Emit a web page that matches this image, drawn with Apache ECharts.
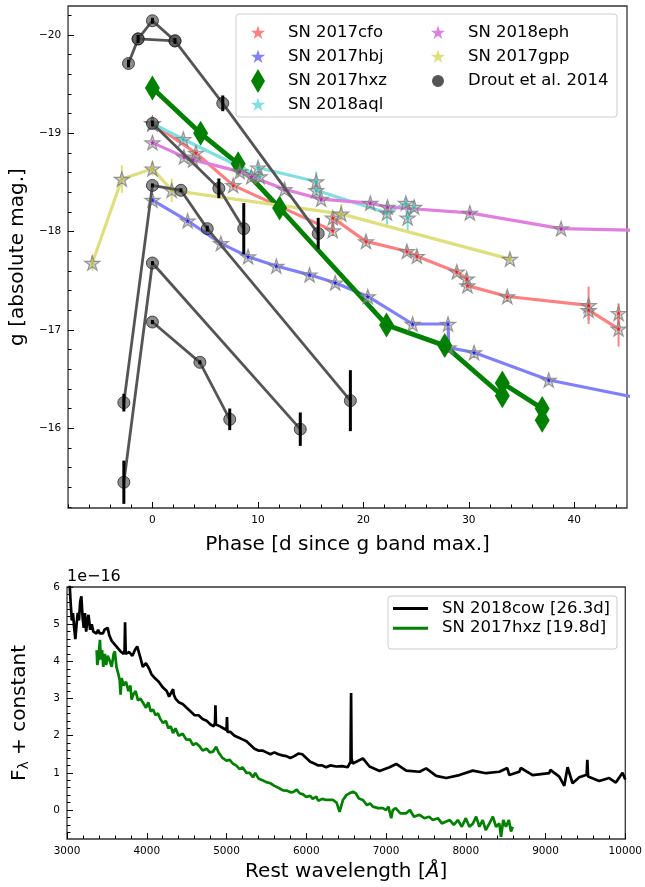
<!DOCTYPE html>
<html>
<head>
<meta charset="utf-8">
<script src="https://cdn.jsdelivr.net/npm/echarts@6/dist/echarts.min.js"></script>
<style>
  html, body { margin: 0; padding: 0; background: #fff; }
  #chart { width: 645px; height: 887px; }
</style>
</head>
<body>
<div id="chart"></div>
<script>
// ---------- g-band light curves: phase [d since g max] and absolute magnitude ----------
const cfoPhase = [0, 4.12, 7.66, 17.1, 17.1, 20.25, 24.13, 25.08, 28.86, 29.8, 29.87, 33.65, 41.36, 41.36, 44.2, 44.2];
const cfoMag   = [-19.10, -18.80, -18.47, -18.01, -18.14, -17.90, -17.80, -17.75, -17.59, -17.52, -17.45, -17.34, -17.25, -17.20, -17.01, -17.17];
const cfoErr   = [0.03, 0.03, 0.04, 0.05, 0.05, 0.04, 0.04, 0.05, 0.04, 0.05, 0.05, 0.04, 0.19, 0.10, 0.18, 0.10];

const hbjPhase = [0, 3.34, 6.49, 9.07, 11.75, 14.9, 17.33, 20.42, 24.67, 28.03, 28.1, 30.5, 37.58, 45.5];
const hbjMag   = [-18.32, -18.11, -17.88, -17.745, -17.65, -17.56, -17.48, -17.34, -17.06, -17.06, -16.82, -16.77, -16.49, -16.32];
const hbjErr   = [0.03, 0.03, 0.03, 0.03, 0.03, 0.03, 0.03, 0.03, 0.03, 0.03, 0.03, 0.03, 0.03, 0.03];

const hxzPhase = [0, 4.57, 8.13, 12.06, 22.2, 27.72, 33.18, 33.18, 36.96, 36.96];
const hxzMag   = [-19.46, -19.0, -18.69, -18.24, -17.05, -16.84, -16.33, -16.46, -16.20, -16.08];
const hxzErr   = [0.02, 0.02, 0.02, 0.02, 0.03, 0.03, 0.05, 0.05, 0.10, 0.10];

const aqlPhase = [0, 2.93, 10.17, 10.02, 15.53, 15.53, 22.24, 24.03, 24.2, 24.82];
const aqlMag   = [-19.10, -18.94, -18.56, -18.65, -18.51, -18.42, -18.19, -18.29, -18.14, -18.25];
const aqlErr   = [0.03, 0.03, 0.05, 0.05, 0.10, 0.06, 0.12, 0.05, 0.15, 0.05];

const ephPhase = [0, 2.99, 3.87, 8.28, 9.38, 12.53, 16.0, 20.66, 22.3, 30.1, 38.75, 48];
const ephMag   = [-18.905, -18.76, -18.73, -18.61, -18.56, -18.43, -18.33, -18.29, -18.25, -18.19, -18.03, -18.01];
const ephErr   = [0.03, 0.03, 0.03, 0.03, 0.03, 0.03, 0.03, 0.03, 0.03, 0.03, 0.03, 0.03];

const gppPhase = [-5.7, -2.9, 0, 1.83, 17.9, 33.9];
const gppMag   = [-17.68, -18.535, -18.64, -18.42, -18.18, -17.72];
const gppErr   = [0.08, 0.14, 0.07, 0.12, 0.10, 0.05];

// Drout et al. (2014) rapidly evolving transients
const droutAPhase = [-2.27, -1.36, 0, 2.14, 6.67, 15.72];
const droutAMag   = [-19.71, -19.96, -20.145, -19.94, -19.305, -17.98];
const droutAErr   = [0.04, 0.04, 0.03, 0.03, 0.08, 0.16];
const droutA2Phase = [-1.36, 2.14];
const droutA2Mag   = [-19.96, -19.94];
const droutBPhase = [0, 6.3, 8.66];
const droutBMag   = [-19.10, -18.44, -18.03];
const droutBErr   = [0.03, 0.10, 0.26];
const droutCPhase = [-2.71, 0, 2.7, 5.2, 18.77];
const droutCMag   = [-16.26, -18.47, -18.42, -18.03, -16.28];
const droutCErr   = [0.09, 0.02, 0.02, 0.03, 0.31];
const droutDPhase = [-2.71, 0, 14.02];
const droutDMag   = [-15.45, -17.68, -15.99];
const droutDErr   = [0.22, 0.02, 0.17];
const droutEPhase = [0, 4.5, 7.33];
const droutEMag   = [-17.08, -16.67, -16.09];
const droutEErr   = [0.02, 0.02, 0.11];

// ---------- spectra: rest wavelength [A] and F_lambda + constant [1e-16] ----------
const cowWave = [
  3030, 3045, 3060, 3075, 3090, 3105, 3120, 3135, 3150, 3165,
  3180, 3195, 3210, 3225, 3240, 3255, 3270, 3290, 3310, 3330,
  3350, 3370, 3390, 3410, 3430, 3450, 3470, 3490, 3510, 3530,
  3560, 3600, 3640, 3680, 3710, 3722, 3728, 3736, 3780, 3820,
  3850, 3880, 3900, 3920, 3950, 3990, 4030, 4060, 4100, 4150,
  4200, 4250, 4280, 4300, 4330, 4340, 4360, 4400, 4450, 4500,
  4550, 4600, 4650, 4700, 4750, 4800, 4840, 4856, 4861, 4868,
  4920, 4960, 5000, 5006, 5012, 5050, 5100, 5150, 5200, 5250,
  5300, 5350, 5400, 5450, 5500, 5550, 5600, 5650, 5700, 5750,
  5800, 5850, 5900, 5950, 6000, 6050, 6100, 6150, 6200, 6250,
  6300, 6376, 6450, 6520, 6555, 6562, 6568, 6580, 6627, 6710,
  6793, 6919, 7044, 7128, 7253, 7420, 7503, 7629, 7754, 7920,
  8087, 8254, 8421, 8520, 8546, 8671, 8690, 8838, 9047, 9060,
  9172, 9235, 9276, 9339, 9423, 9515, 9524, 9533, 9550, 9673,
  9798, 9882, 9965, 10000];
const cowFlux = [
  6.2, 5.6, 5.1, 5.3, 4.9, 4.6, 5.0, 5.3, 5.1, 5.6,
  5.75, 5.2, 4.9, 5.3, 4.8, 5.1, 5.25, 4.85, 5.0, 4.8,
  4.85, 4.75, 4.85, 4.75, 4.8, 4.75, 4.85, 4.8, 4.9, 4.7,
  4.55, 4.45, 4.35, 4.25, 4.2, 4.3, 5.05, 4.2, 4.25, 4.15,
  4.3, 4.4, 4.25, 4.1, 3.85, 3.95, 3.8, 3.65, 3.55, 3.45,
  3.3, 3.2, 3.05, 3.1, 3.25, 3.1, 3.0, 2.9, 2.85, 2.75,
  2.65, 2.55, 2.55, 2.45, 2.4, 2.3, 2.25, 2.35, 2.82, 2.3,
  2.25, 2.2, 2.15, 2.5, 2.1, 2.1, 2.0, 1.95, 1.9, 1.85,
  1.75, 1.65, 1.6, 1.6, 1.55, 1.5, 1.55, 1.5, 1.47, 1.45,
  1.4, 1.45, 1.52, 1.5, 1.4, 1.3, 1.25, 1.2, 1.2, 1.15,
  1.2, 1.17, 1.18, 1.15, 1.3, 3.15, 1.4, 1.25, 1.3, 1.39,
  1.17, 1.05, 1.15, 1.24, 1.06, 1.03, 1.12, 0.92, 0.86, 0.94,
  1.06, 0.99, 1.03, 1.13, 0.94, 1.03, 1.13, 0.94, 0.99, 1.08,
  0.9, 0.65, 1.15, 0.72, 0.88, 0.95, 1.35, 0.9, 0.85, 0.78,
  0.86, 0.74, 1.0, 0.82];

const hxzWave = [
  3372, 3380, 3395, 3413, 3425, 3440, 3455, 3475, 3490, 3510,
  3538, 3560, 3585, 3600, 3620, 3645, 3660, 3672, 3685, 3710,
  3740, 3770, 3795, 3810, 3830, 3860, 3890, 3920, 3955, 3990,
  4020, 4050, 4080, 4110, 4140, 4170, 4205, 4240, 4270, 4300,
  4330, 4360, 4400, 4450, 4497, 4540, 4580, 4620, 4664, 4700,
  4750, 4790, 4831, 4870, 4900, 4950, 4998, 5040, 5080, 5120,
  5165, 5200, 5250, 5290, 5332, 5360, 5400, 5450, 5499, 5550,
  5600, 5650, 5708, 5760, 5810, 5850, 5880, 5916, 5960, 6000,
  6050, 6080, 6125, 6150, 6200, 6250, 6292, 6335, 6380, 6418,
  6460, 6502, 6540, 6585, 6620, 6660, 6710, 6760, 6800, 6835,
  6900, 6960, 7000, 7030, 7065, 7085, 7120, 7180, 7253, 7300,
  7350, 7420, 7480, 7540, 7587, 7650, 7700, 7754, 7800, 7850,
  7900, 7950, 8000, 8045, 8090, 8130, 8170, 8212, 8250, 8296,
  8340, 8379, 8420, 8442, 8470, 8504, 8540, 8567, 8588];
const hxzFlux = [
  4.3, 3.9, 4.1, 4.58, 4.05, 4.3, 3.85, 4.2, 3.9, 4.15,
  4.0, 3.85, 4.2, 4.27, 3.85, 3.65, 3.5, 3.1, 3.55, 3.35,
  3.45, 3.2, 3.35, 2.97, 3.1, 3.2, 2.95, 3.0, 2.88, 2.75,
  2.9, 2.65, 2.7, 2.55, 2.6, 2.45, 2.34, 2.4, 2.2, 2.25,
  2.07, 2.2, 2.0, 2.05, 1.89, 1.9, 1.75, 1.8, 1.71, 1.6,
  1.65, 1.55, 1.57, 1.7, 1.55, 1.4, 1.33, 1.35, 1.25, 1.2,
  1.1, 1.15, 1.0, 1.0, 0.88, 1.0, 0.85, 0.8, 0.75, 0.72,
  0.65, 0.6, 0.53, 0.52, 0.47, 0.5, 0.55, 0.45, 0.42, 0.35,
  0.38, 0.3, 0.36, 0.25, 0.3, 0.27, 0.27, 0.27, 0.2, -0.05,
  0.27, 0.4, 0.45, 0.49, 0.45, 0.31, 0.27, 0.13, 0.18, 0.09,
  0.05, 0.05, 0.0, 0.09, -0.22, 0.0, 0.05, -0.09, -0.09, 0.0,
  -0.18, -0.13, -0.22, -0.18, -0.27, -0.22, -0.36, -0.31, -0.27, -0.4,
  -0.27, -0.45, -0.22, -0.45, -0.36, -0.18, -0.45, -0.27, -0.54, -0.36,
  -0.18, -0.45, -0.36, -0.72, -0.27, -0.45, -0.27, -0.58, -0.45];

// ---------- tick labels ----------
const phaseTicks = [0, 10, 20, 30, 40];
const magTicks = [-20, -19, -18, -17, -16];
const waveTicks = [3000, 4000, 5000, 6000, 7000, 8000, 9000, 10000];
const fluxTicks = [0, 1, 2, 3, 4, 5, 6];

// ---------- helpers ----------
const FONT = 'DejaVu Sans';
const STAR = 'path://M0,-100L22.45,-30.9L95.1,-30.9L36.33,11.8L58.78,80.9L0,38.2L-58.78,80.9L-36.33,11.8L-95.1,-30.9L-22.45,-30.9Z';
const DIAMOND = 'path://M0,-120L70,0L0,120L-70,0Z';
// legend icons carry an empty margin so they keep the marker size inside the row box
const STAR_ICON = STAR + 'M-160,-160L-160,-159.99M160,160L160,159.99';
const DOT_ICON = 'path://M100,0A100,100,0,1,1,-100,0A100,100,0,1,1,100,0ZM-200,-200L-200,-199.99M200,200L200,199.99';
const LINE_ICON = 'path://M0,-15L350,-15L350,15L0,15ZM440,-15L440,15';

const minus = v => String(v).replace('-', '\u2212');
function steps(a, b, s) {
  const out = [];
  for (let k = Math.round(a / s); k * s <= b + 1e-9; k++) out.push(+(k * s).toFixed(6));
  return out;
}
const pairs = (xs, ys) => xs.map((x, i) => [x, ys[i]]);

function errorBars(phase, mag, err, color, width, z) {
  const data = [];
  phase.forEach((p, i) => { if (err[i] > 0) data.push([p, mag[i] - err[i], mag[i] + err[i]]); });
  return {
    type: 'custom', xAxisIndex: 0, yAxisIndex: 0, silent: true, clip: true, z: z,
    encode: { x: 0, y: [1, 2] },
    data: data,
    renderItem: (params, api) => {
      const a = api.coord([api.value(0), api.value(1)]);
      const b = api.coord([api.value(0), api.value(2)]);
      return { type: 'line', shape: { x1: a[0], y1: a[1], x2: b[0], y2: b[1] },
               style: { stroke: color, lineWidth: width } };
    }
  };
}

function starCurve(name, phase, mag, err, lineColor, dotColor) {
  return [
    errorBars(phase, mag, err, lineColor, 2, 2),
    {
      name: name, type: 'line', xAxisIndex: 0, yAxisIndex: 0, z: 2,
      data: pairs(phase, mag),
      symbol: STAR, symbolSize: 15, symbolKeepAspect: true, showAllSymbol: true,
      lineStyle: { color: lineColor, width: 3.2 },
      itemStyle: { color: 'rgba(165,165,165,0.5)', borderColor: 'rgba(120,120,120,0.75)', borderWidth: 1.2 },
      emphasis: { disabled: true }, silent: true
    },
    {
      type: 'scatter', xAxisIndex: 0, yAxisIndex: 0, z: 2, silent: true,
      data: pairs(phase, mag), symbol: STAR, symbolSize: 5,
      itemStyle: { color: dotColor }
    }
  ];
}

function droutCurve(phase, mag, err) {
  const out = [{
    name: 'Drout et al. 2014', type: 'line', xAxisIndex: 0, yAxisIndex: 0, z: 3,
    data: pairs(phase, mag),
    symbol: 'circle', symbolSize: 12, showAllSymbol: true,
    lineStyle: { color: '#555555', width: 2.8 },
    itemStyle: { color: 'rgba(70,70,70,0.62)', borderColor: 'rgba(30,30,30,0.75)', borderWidth: 1 },
    emphasis: { disabled: true }, silent: true
  }];
  if (err) out.push(errorBars(phase, mag, err, '#000000', 3, 4));
  return out;
}

const series = [].concat(
  starCurve('SN 2017cfo', cfoPhase, cfoMag, cfoErr, '#ff8080', '#ff0000'),
  starCurve('SN 2017hbj', hbjPhase, hbjMag, hbjErr, '#8080ff', '#0000ff'),
  [
    errorBars(hxzPhase, hxzMag, hxzErr, '#008000', 2, 2),
    {
      name: 'SN 2017hxz', type: 'line', xAxisIndex: 0, yAxisIndex: 0, z: 2,
      data: pairs(hxzPhase, hxzMag),
      symbol: DIAMOND, symbolSize: [15, 25], showAllSymbol: true,
      lineStyle: { color: '#008000', width: 4.8 },
      itemStyle: { color: '#008000' },
      emphasis: { disabled: true }, silent: true
    }
  ],
  starCurve('SN 2018aql', aqlPhase, aqlMag, aqlErr, '#80dfdf', '#00bfbf'),
  starCurve('SN 2018eph', ephPhase, ephMag, ephErr, '#df80df', '#bf00bf'),
  starCurve('SN 2017gpp', gppPhase, gppMag, gppErr, '#dfdf80', '#bfbf00'),
  droutCurve(droutAPhase, droutAMag, droutAErr),
  droutCurve(droutA2Phase, droutA2Mag, null),
  droutCurve(droutBPhase, droutBMag, droutBErr),
  droutCurve(droutCPhase, droutCMag, droutCErr),
  droutCurve(droutDPhase, droutDMag, droutDErr),
  droutCurve(droutEPhase, droutEMag, droutEErr),
  [
    {
      name: 'SN 2018cow [26.3d]', type: 'line', xAxisIndex: 2, yAxisIndex: 2,
      data: pairs(cowWave, cowFlux), symbol: 'none',
      lineStyle: { color: '#000000', width: 2.7 }, itemStyle: { color: '#000000' },
      emphasis: { disabled: true }, silent: true
    },
    {
      name: 'SN 2017hxz [19.8d]', type: 'line', xAxisIndex: 2, yAxisIndex: 2,
      data: pairs(hxzWave, hxzFlux), symbol: 'none',
      lineStyle: { color: '#008000', width: 2.7 }, itemStyle: { color: '#008000' },
      emphasis: { disabled: true }, silent: true
    }
  ]
);

const tickStyle = { color: '#000000', width: 1 };
const labelStyle = { fontSize: 10.5, color: '#000000', fontFamily: FONT };
const nameStyle = { fontSize: 20, color: '#000000', fontFamily: FONT };

function majorAxis(grid, min, max, ticks, extra) {
  return Object.assign({
    gridIndex: grid, type: 'value', min: min, max: max,
    axisLine: { show: false, onZero: false }, splitLine: { show: false },
    axisTick: { inside: true, length: 6, customValues: ticks, lineStyle: tickStyle },
    axisLabel: Object.assign({ customValues: ticks, formatter: minus, margin: 7 }, labelStyle)
  }, extra);
}
function minorAxis(grid, min, max, ticks, extra) {
  return Object.assign({
    gridIndex: grid, type: 'value', min: min, max: max,
    axisLine: { show: false, onZero: false }, splitLine: { show: false },
    axisTick: { inside: true, length: 3.5, customValues: ticks, lineStyle: tickStyle },
    axisLabel: { show: false }
  }, extra);
}

const legendText = { fontSize: 16.5, color: '#000000', fontFamily: FONT };

const option = {
  animation: false,
  backgroundColor: '#ffffff',
  textStyle: { fontFamily: FONT },
  grid: [
    { left: 66, top: 6, width: 561, height: 502, show: true, borderColor: '#333333', borderWidth: 1.3, backgroundColor: 'transparent' },
    { left: 67, top: 587, width: 559, height: 252, show: true, borderColor: '#333333', borderWidth: 1.3, backgroundColor: 'transparent' }
  ],
  xAxis: [
    majorAxis(0, -8, 45, phaseTicks, {
      position: 'bottom', name: 'Phase [d since g band max.]', nameLocation: 'middle', nameGap: 27, nameTextStyle: nameStyle
    }),
    minorAxis(0, -8, 45, steps(-8, 44, 2), { position: 'bottom' }),
    majorAxis(1, 3000, 10000, waveTicks, {
      position: 'bottom', name: 'Rest wavelength [{i|Å}]', nameLocation: 'middle', nameGap: 23,
      nameTextStyle: Object.assign({ rich: { i: { fontStyle: 'italic', fontSize: 20, fontFamily: FONT, color: '#000' } } }, nameStyle)
    }),
    minorAxis(1, 3000, 10000, steps(3000, 10000, 200), { position: 'bottom' })
  ],
  yAxis: [
    majorAxis(0, -20.295, -15.188, magTicks, {
      position: 'left', inverse: true, name: 'g [absolute mag.]', nameLocation: 'middle', nameGap: 38, nameRotate: 90,
      nameTextStyle: nameStyle
    }),
    minorAxis(0, -20.295, -15.188, steps(-20.2, -15.2, 0.2), { position: 'left', inverse: true }),
    majorAxis(1, -0.78, 6, fluxTicks, {
      position: 'left', name: '{f|F}{s|λ}{f| + constant}', nameLocation: 'middle', nameGap: 36, nameRotate: 90,
      nameTextStyle: Object.assign({ rich: {
        f: { fontSize: 20, color: '#000', fontFamily: FONT },
        s: { fontSize: 14, color: '#000', fontFamily: FONT, padding: [9, 0, 0, 0] }
      } }, nameStyle)
    }),
    minorAxis(1, -0.78, 6, steps(-0.6, 6, 0.2), {
      position: 'left', name: '1e\u221216', nameLocation: 'end', nameGap: 2,
      nameTextStyle: { fontSize: 16, color: '#000', fontFamily: FONT, align: 'left', verticalAlign: 'bottom' }
    })
  ],
  legend: [
    {
      left: 246, top: 21, orient: 'vertical', padding: 0, itemWidth: 50, itemHeight: 24, itemGap: 0,
      selectedMode: false, z: 6, textStyle: legendText,
      data: [
        { name: 'SN 2017cfo', icon: STAR_ICON, itemStyle: { color: '#ff8080', borderWidth: 0 } },
        { name: 'SN 2017hbj', icon: STAR_ICON, itemStyle: { color: '#8080ff', borderWidth: 0 } },
        { name: 'SN 2017hxz', icon: DIAMOND, itemStyle: { color: '#008000', borderWidth: 0 } },
        { name: 'SN 2018aql', icon: STAR_ICON, itemStyle: { color: '#80dfdf', borderWidth: 0 } }
      ]
    },
    {
      left: 426, top: 21, orient: 'vertical', padding: 0, itemWidth: 50, itemHeight: 24, itemGap: 0,
      selectedMode: false, z: 6, textStyle: legendText,
      data: [
        { name: 'SN 2018eph', icon: STAR_ICON, itemStyle: { color: '#df80df', borderWidth: 0 } },
        { name: 'SN 2017gpp', icon: STAR_ICON, itemStyle: { color: '#dfdf80', borderWidth: 0 } },
        { name: 'Drout et al. 2014', icon: DOT_ICON, itemStyle: { color: '#555555', borderWidth: 0 } }
      ]
    },
    {
      left: 393, top: 600, orient: 'vertical', padding: 0, itemWidth: 44, itemHeight: 20, itemGap: 2.7,
      selectedMode: false, z: 6, textStyle: legendText,
      data: [
        { name: 'SN 2018cow [26.3d]', icon: LINE_ICON, itemStyle: { color: '#000000', borderWidth: 0 } },
        { name: 'SN 2017hxz [19.8d]', icon: LINE_ICON, itemStyle: { color: '#008000', borderWidth: 0 } }
      ]
    }
  ],
  graphic: [
    { type: 'rect', z: 5, silent: true, shape: { x: 236, y: 14, width: 381, height: 103, r: 3 },
      style: { fill: 'rgba(255,255,255,0.85)', stroke: '#cccccc', lineWidth: 1 } },
    { type: 'rect', z: 5, silent: true, shape: { x: 388, y: 596, width: 229, height: 53, r: 3 },
      style: { fill: 'rgba(255,255,255,0.85)', stroke: '#cccccc', lineWidth: 1 } }
  ],
  series: series
};

const chart = echarts.init(document.getElementById('chart'));
chart.setOption(option);
</script>
</body>
</html>
